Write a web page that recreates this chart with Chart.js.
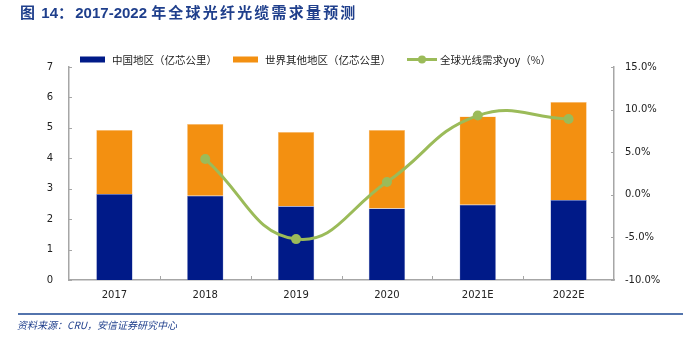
<!DOCTYPE html>
<html>
<head>
<meta charset="utf-8">
<script src="https://cdn.jsdelivr.net/npm/chart.js@4.4.1/dist/chart.umd.min.js"></script>
<style>
    body { margin: 0; background: #fff; }
    #wrap { position: relative; width: 688px; height: 340px; overflow: hidden; }
    #title {
        position: absolute; left: 20px; top: 1px;
        font: bold 15px "Liberation Sans", "Noto Sans CJK SC", sans-serif;
        color: #1f3f8c;
    }
    #title .cjk { font-family: "Noto Sans CJK SC", sans-serif; letter-spacing: 2.2px; }
    #rule { position: absolute; left: 18px; top: 313px; width: 665px; height: 2px; background: #5374ad; }
    #source {
        position: absolute; left: 17px; top: 317px;
        font: italic 10px "Noto Sans CJK SC", "Liberation Sans", sans-serif;
        color: #1f3f8c;
    }
    canvas { position: absolute; left: 0; top: 0; }
</style>
</head>
<body>
<div id="wrap">
    <canvas id="bar-chart" width="688" height="340"></canvas>
    <div id="title"><span class="cjk">图</span> 14<span class="cjk">：</span>2017-2022 <span class="cjk">年全球光纤光缆需求量预测</span></div>
    <div id="rule"></div>
    <div id="source">资料来源：CRU，安信证券研究中心</div>
</div>
<script>
// years and the two stacked series (亿芯公里), plus yoy growth in %
var years = ['2017', '2018', '2019', '2020', '2021E', '2022E'];
var china = [2.83, 2.77, 2.42, 2.35, 2.47, 2.63];
var rest_of_world = [2.10, 2.36, 2.44, 2.58, 2.90, 3.22];
var yoy = [null, 4.2, -5.2, 1.5, 9.3, 8.9];

var labels = ['中国地区（亿芯公里）', '世界其他地区（亿芯公里）', '全球光线需求yoy（%）'];

var blue = '#001a88';
var orange = '#f39011';
var green = '#9bbb59';
var axis_grey = '#a6a6a6';
var tick_font = { family: '"DejaVu Sans", "Liberation Sans", sans-serif', size: 10 };

// small inward tick marks like the office chart has
var inwardTicks = {
    id: 'inwardTicks',
    afterDraw: function (chart) {
        var ctx = chart.ctx;
        var area = chart.chartArea;
        var x = chart.scales.x, y = chart.scales.y, y1 = chart.scales.y1;
        ctx.save();
        ctx.strokeStyle = axis_grey;
        ctx.lineWidth = 1;
        ctx.beginPath();
        y.ticks.forEach(function (t, i) {
            var p = Math.round(y.getPixelForTick(i)) + 0.5;
            ctx.moveTo(area.left, p);
            ctx.lineTo(area.left + 3, p);
        });
        y1.ticks.forEach(function (t, i) {
            var p = Math.round(y1.getPixelForTick(i)) + 0.5;
            ctx.moveTo(area.right, p);
            ctx.lineTo(area.right - 3, p);
        });
        for (var i = 1; i < years.length; i++) {
            var px = Math.round((x.getPixelForValue(i - 1) + x.getPixelForValue(i)) / 2) + 0.5;
            ctx.moveTo(px, area.bottom);
            ctx.lineTo(px, area.bottom - 4);
        }
        ctx.stroke();
        ctx.restore();
    }
};

// legend row: two filled boxes and one line with a dot
var topLegend = {
    id: 'topLegend',
    afterDraw: function (chart) {
        var ctx = chart.ctx;
        var cx = 80, cy = 59.5;
        ctx.save();
        ctx.font = '10.5px "Noto Sans CJK SC", sans-serif';
        ctx.textBaseline = 'middle';
        chart.data.datasets.forEach(function (ds) {
            if (ds.type === 'line') {
                ctx.strokeStyle = ds.borderColor;
                ctx.lineWidth = 3;
                ctx.beginPath();
                ctx.moveTo(cx, cy);
                ctx.lineTo(cx + 30, cy);
                ctx.stroke();
                ctx.fillStyle = ds.borderColor;
                ctx.beginPath();
                ctx.arc(cx + 15, cy, 4, 0, Math.PI * 2);
                ctx.fill();
                cx += 33;
            } else {
                ctx.fillStyle = ds.backgroundColor;
                ctx.fillRect(cx, cy - 3, 25, 6);
                cx += 32;
            }
            ctx.fillStyle = '#222';
            ctx.fillText(ds.label, cx, cy + 0.5);
            cx += ctx.measureText(ds.label).width + 16;
        });
        ctx.restore();
    }
};

new Chart(document.getElementById('bar-chart'), {
    type: 'bar',
    data: {
        labels: years,
        datasets: [{
            label: labels[0],
            data: china,
            backgroundColor: blue,
            borderColor: '#8090c8',
            borderWidth: 0.5,
            yAxisID: 'y',
            order: 1,
            barPercentage: 0.4,
            categoryPercentage: 1
        }, {
            label: labels[1],
            data: rest_of_world,
            backgroundColor: orange,
            borderColor: '#f8c890',
            borderWidth: 0.5,
            yAxisID: 'y',
            order: 1,
            barPercentage: 0.4,
            categoryPercentage: 1
        }, {
            type: 'line',
            label: labels[2],
            data: yoy,
            borderColor: green,
            backgroundColor: green,
            borderWidth: 3,
            pointRadius: 5,
            pointBackgroundColor: green,
            pointBorderWidth: 0,
            tension: 0.45,
            yAxisID: 'y1',
            order: 0
        }]
    },
    options: {
        responsive: false,
        animation: false,
        layout: { padding: { top: 67, left: 0, right: 0, bottom: 0 } },
        plugins: {
            legend: { display: false },
            tooltip: { enabled: false }
        },
        scales: {
            x: {
                stacked: true,
                grid: { display: false, drawTicks: false },
                border: { color: axis_grey, width: 1.5 },
                ticks: { color: '#222', font: tick_font, padding: 9 },
                afterFit: function (s) { s.height = 60; }
            },
            y: {
                stacked: true,
                min: 0,
                max: 7,
                position: 'left',
                grid: { display: false, drawTicks: false },
                border: { color: axis_grey, width: 1.5 },
                ticks: { stepSize: 1, color: '#222', font: tick_font, padding: 16 },
                afterFit: function (s) { s.width = 69; }
            },
            y1: {
                min: -10,
                max: 15,
                position: 'right',
                grid: { display: false, drawTicks: false },
                border: { color: axis_grey, width: 1.5 },
                ticks: {
                    stepSize: 5,
                    color: '#222',
                    font: tick_font,
                    padding: 11,
                    callback: function (v) { return v.toFixed(1) + '%'; }
                },
                afterFit: function (s) { s.width = 74; }
            }
        }
    },
    plugins: [inwardTicks, topLegend]
});
</script>
</body>
</html>
